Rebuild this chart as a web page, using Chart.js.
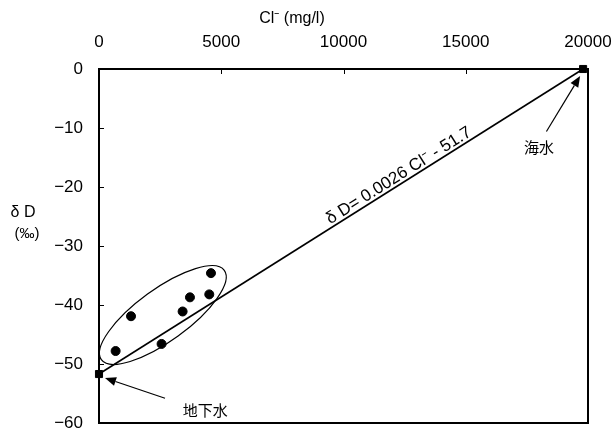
<!DOCTYPE html>
<html><head><meta charset="utf-8">
<script src="https://cdn.jsdelivr.net/npm/chart.js@4/dist/chart.umd.min.js"></script>
<style>html,body{margin:0;padding:0;background:#fff;}#wrap{width:615px;height:430px;}</style>
</head><body><div id="wrap"><canvas id="c" width="615" height="430"></canvas></div>
<script>
// ---- data ----
const xTicks = [0, 5000, 10000, 15000, 20000];
const yTicks = [0, -10, -20, -30, -40, -50, -60];
const sampleCl = [680, 1310, 2560, 3420, 3720, 4510, 4580];
const sampleDD = [-47.8, -41.9, -46.6, -41.1, -38.7, -38.2, -34.6];
const endNames = ['地下水', '海水'];
const endCl = [0, 19800];
const endDD = [-51.7, 0];
const lineCl = [0, 19800];
const lineDD = [-51.7, 0];
const equationText = 'δ D= 0.0026 Cl⁻ - 51.7';
const equationAt = [12450, -19.3];
const xTitle = 'Cl⁻ (mg/l)';
const yTitle = ['δ D', '(‰)'];
// annotation anchors in data units: [tailCl, tailDD, labelCl, labelDD]
const groundArrow = [2700, -55.8, 4350, -57.8];
const seaArrow = [18300, -10.6, 18000, -13.2];
const ellipseCenter = [2610, -41.7];

const LATIN = '"Liberation Sans", Arial, sans-serif';
const JP = '"Noto Sans CJK JP", sans-serif';

function arrow(ctx, x0, y0, x1, y1) {
  const ang = Math.atan2(y1 - y0, x1 - x0);
  const L = 11, W = 4.5;
  ctx.beginPath(); ctx.moveTo(x0, y0);
  ctx.lineTo(x1 - L * Math.cos(ang), y1 - L * Math.sin(ang)); ctx.stroke();
  ctx.beginPath(); ctx.moveTo(x1, y1);
  ctx.lineTo(x1 - L * Math.cos(ang) + W * Math.sin(ang), y1 - L * Math.sin(ang) - W * Math.cos(ang));
  ctx.lineTo(x1 - L * Math.cos(ang) - W * Math.sin(ang), y1 - L * Math.sin(ang) + W * Math.cos(ang));
  ctx.closePath(); ctx.fill();
}

const overlay = {
  id: 'overlay',
  beforeDatasetsDraw(chart) {
    const { ctx, chartArea: a, scales: { x, y } } = chart;
    ctx.save();
    ctx.strokeStyle = '#000'; ctx.lineWidth = 2;
    ctx.strokeRect(a.left, a.top, a.right - a.left, a.bottom - a.top);
    ctx.lineWidth = 1;
    x.ticks.forEach(t => { const p = Math.round(x.getPixelForValue(t.value)) + 0.5;
      ctx.beginPath(); ctx.moveTo(p, a.top); ctx.lineTo(p, a.top + 5); ctx.stroke(); });
    y.ticks.forEach(t => { const p = Math.round(y.getPixelForValue(t.value)) + 0.5;
      ctx.beginPath(); ctx.moveTo(a.left, p); ctx.lineTo(a.left + 5, p); ctx.stroke(); });
    ctx.restore();
  },
  afterDatasetsDraw(chart) {
    const { ctx, chartArea: a, scales: { x, y } } = chart;
    ctx.save();
    ctx.fillStyle = '#000'; ctx.strokeStyle = '#000';
    // ellipse
    ctx.lineWidth = 1.2;
    ctx.beginPath();
    ctx.ellipse(x.getPixelForValue(ellipseCenter[0]), y.getPixelForValue(ellipseCenter[1]), 76, 26, -36 * Math.PI / 180, 0, Math.PI * 2);
    ctx.stroke();
    // arrows
    ctx.lineWidth = 1.2;
    const gTip = [x.getPixelForValue(endCl[0]) + 6, y.getPixelForValue(endDD[0]) + 4];
    arrow(ctx, x.getPixelForValue(groundArrow[0]), y.getPixelForValue(groundArrow[1]), gTip[0], gTip[1]);
    const sTip = [x.getPixelForValue(endCl[1]) - 3, y.getPixelForValue(endDD[1]) + 7];
    arrow(ctx, x.getPixelForValue(seaArrow[0]), y.getPixelForValue(seaArrow[1]), sTip[0], sTip[1]);
    ctx.font = '15px ' + JP; ctx.textAlign = 'center'; ctx.textBaseline = 'middle';
    ctx.fillText(endNames[0], x.getPixelForValue(groundArrow[2]), y.getPixelForValue(groundArrow[3]));
    ctx.fillText(endNames[1], x.getPixelForValue(seaArrow[2]), y.getPixelForValue(seaArrow[3]));
    // equation
    const ang = Math.atan2(y.getPixelForValue(lineDD[1]) - y.getPixelForValue(lineDD[0]),
                           x.getPixelForValue(lineCl[1]) - x.getPixelForValue(lineCl[0]));
    ctx.save();
    ctx.translate(x.getPixelForValue(equationAt[0]), y.getPixelForValue(equationAt[1]));
    ctx.rotate(ang);
    ctx.font = '17px ' + LATIN; ctx.textBaseline = 'bottom';
    ctx.fillText(equationText, 0, 0);
    ctx.restore();
    // axis titles
    ctx.font = '16px ' + LATIN; ctx.textAlign = 'center'; ctx.textBaseline = 'middle';
    ctx.fillText(xTitle, 292, 19);
    ctx.fillText(yTitle[0], 23, 213);
    ctx.font = '15px ' + LATIN;
    ctx.fillText(yTitle[1], 27, 234);
    ctx.restore();
  }
};

new Chart(document.getElementById('c'), {
  type: 'scatter',
  data: {
    datasets: [
      { label: 'line', type: 'line', data: lineCl.map((v, i) => ({ x: v, y: lineDD[i] })),
        borderColor: '#000', borderWidth: 1.6, pointRadius: 0, clip: false, order: 3 },
      { label: 'samples', data: sampleCl.map((v, i) => ({ x: v, y: sampleDD[i] })),
        backgroundColor: '#000', borderColor: '#000', pointRadius: 4.5, pointStyle: 'circle', clip: false, order: 1 },
      { label: 'end members', data: endCl.map((v, i) => ({ x: v, y: endDD[i] })),
        backgroundColor: '#000', borderColor: '#000', pointRadius: 5, pointStyle: 'rect', clip: false, order: 2 }
    ]
  },
  options: {
    responsive: false, animation: false, devicePixelRatio: 1,
    layout: { padding: { left: 0, top: 0, right: 27, bottom: 7 } },
    plugins: { legend: { display: false }, tooltip: { enabled: false }, title: { display: false } },
    scales: {
      x: {
        type: 'linear', position: 'top', min: 0, max: 20000,
        afterBuildTicks: s => { s.ticks = xTicks.map(v => ({ value: v })); },
        afterFit: s => { s.height = 69; s.paddingLeft = 0; s.paddingRight = 0; },
        grid: { display: false, drawTicks: false },
        border: { display: false },
        ticks: { color: '#000', font: { family: LATIN, size: 17 }, padding: 16, maxRotation: 0,
                 callback: v => String(v) }
      },
      y: {
        type: 'linear', min: -60, max: 0,
        afterBuildTicks: s => { s.ticks = yTicks.map(v => ({ value: v })); },
        afterFit: s => { s.width = 99; s.paddingTop = 0; s.paddingBottom = 0; },
        grid: { display: false, drawTicks: false },
        border: { display: false },
        ticks: { color: '#000', font: { family: LATIN, size: 17 }, padding: 16,
                 callback: v => (v < 0 ? '\u2212' + Math.abs(v) : String(v)) }
      }
    }
  },
  plugins: [overlay]
});
</script></body></html>
